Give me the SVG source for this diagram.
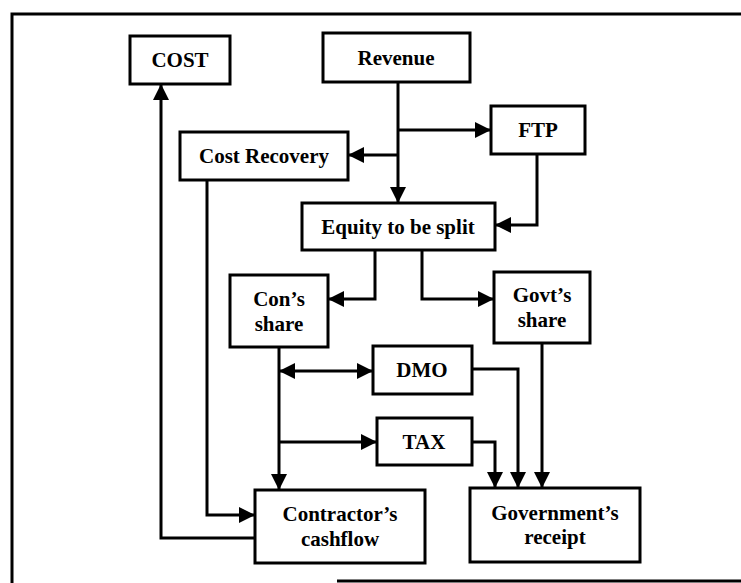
<svg xmlns="http://www.w3.org/2000/svg" width="741" height="583" viewBox="0 0 741 583">
<style>
.box{fill:#fff;stroke:#000;stroke-width:3}
.t{font-family:"Liberation Serif","Times New Roman",serif;font-weight:bold;font-size:21px;text-anchor:middle;fill:#000}
.c{fill:none;stroke:#000;stroke-width:3}
.frame{fill:none;stroke:#000;stroke-width:3}
</style>
<defs>
<marker id="ah" viewBox="0 0 16 16" refX="16" refY="8" markerWidth="16" markerHeight="16" markerUnits="userSpaceOnUse" orient="auto-start-reverse">
<path d="M0,0 L16,8 L0,16 z" fill="#000"/>
</marker>
</defs>
<g id="frame">
<path class="frame" d="M12,583 V14 H741"/>
<path class="frame" d="M337,581 H741"/>
</g>
<g id="connectors">
<path class="c" d="M398,82 V203" marker-end="url(#ah)"/>
<path class="c" d="M398,130 H491" marker-end="url(#ah)"/>
<path class="c" d="M398,155 H348" marker-end="url(#ah)"/>
<path class="c" d="M537,154 V225 H495" marker-end="url(#ah)"/>
<path class="c" d="M375,250 V299 H328" marker-end="url(#ah)"/>
<path class="c" d="M422,250 V299 H494" marker-end="url(#ah)"/>
<path class="c" d="M279,347 V490" marker-end="url(#ah)"/>
<path class="c" d="M279,371 H373" marker-start="url(#ah)" marker-end="url(#ah)"/>
<path class="c" d="M279,442 H377" marker-end="url(#ah)"/>
<path class="c" d="M207,180 V515 H255" marker-end="url(#ah)"/>
<path class="c" d="M255,538 H161 V84" marker-end="url(#ah)"/>
<path class="c" d="M472,369 H518 V488" marker-end="url(#ah)"/>
<path class="c" d="M472,442 H495 V488" marker-end="url(#ah)"/>
<path class="c" d="M542,343 V488" marker-end="url(#ah)"/>
</g>
<g id="cost"><rect class="box" x="130" y="36" width="100" height="48"/><text class="t" x="180" y="67">COST</text></g>
<g id="revenue"><rect class="box" x="323" y="33" width="147" height="49"/><text class="t" x="396" y="65">Revenue</text></g>
<g id="ftp"><rect class="box" x="491" y="106" width="94" height="48"/><text class="t" x="538" y="137">FTP</text></g>
<g id="cost-recovery"><rect class="box" x="180" y="132" width="168" height="48"/><text class="t" x="264" y="163">Cost Recovery</text></g>
<g id="equity"><rect class="box" x="302" y="203" width="193" height="47"/><text class="t" x="398" y="234">Equity to be split</text></g>
<g id="con-share"><rect class="box" x="230" y="275" width="98" height="72"/><text class="t" x="279" y="306">Con’s</text><text class="t" x="279" y="331">share</text></g>
<g id="govt-share"><rect class="box" x="494" y="272" width="96" height="71"/><text class="t" x="542" y="302">Govt’s</text><text class="t" x="542" y="327">share</text></g>
<g id="dmo"><rect class="box" x="373" y="346" width="99" height="48"/><text class="t" x="422" y="377">DMO</text></g>
<g id="tax"><rect class="box" x="377" y="418" width="95" height="47"/><text class="t" x="424" y="449">TAX</text></g>
<g id="contractor-cashflow"><rect class="box" x="255" y="490" width="170" height="73"/><text class="t" x="340" y="521">Contractor’s</text><text class="t" x="340" y="546">cashflow</text></g>
<g id="government-receipt"><rect class="box" x="470" y="488" width="170" height="74"/><text class="t" x="555" y="520">Government’s</text><text class="t" x="555" y="544">receipt</text></g>
</svg>
